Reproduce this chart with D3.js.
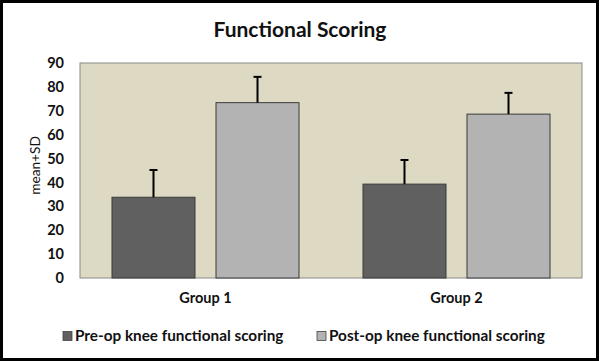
<!DOCTYPE html>
<html>
<head>
<meta charset="utf-8">
<script src="https://cdn.jsdelivr.net/npm/d3@7"></script>
<style>
  body { margin: 0; background: #fff; }
  svg text { font-family: Lato, "Open Sans", sans-serif; font-weight: bold; fill: #111; }
</style>
</head>
<body>
<div id="container"></div>
<script>
// data
const groups = ["Group 1", "Group 2"];
const seriesNames = ["Pre-op knee functional scoring", "Post-op knee functional scoring"];
const preMeans = [33.8, 39.3];
const preSD = [11.4, 10.1];
const postMeans = [73.4, 68.6];
const postSD = [10.8, 8.9];
const yTicks = [0, 10, 20, 30, 40, 50, 60, 70, 80, 90];

const width = 600, height = 361;
const colors = ["#606060", "#b3b3b3"];

const svg = d3.select("#container").append("svg")
  .attr("width", width).attr("height", height);

// outer frame
svg.append("rect")
  .attr("x", 1.5).attr("y", 1.5)
  .attr("width", width - 4).attr("height", height - 3)
  .attr("fill", "#fff").attr("stroke", "#000").attr("stroke-width", 3);

const plot = {left: 80, top: 63, right: 582, bottom: 278};

const x0 = d3.scaleBand().domain(groups)
  .range([plot.left, plot.right]).paddingInner(0).paddingOuter(0);
// bars 83px wide, ~21px apart, centred in each group band
const x1 = d3.scaleBand().domain(seriesNames)
  .range([32, x0.bandwidth() - 32]).paddingInner(0.202).paddingOuter(0);
const y = d3.scaleLinear().domain([0, 90]).range([plot.bottom, plot.top]);

// plot background
svg.append("rect")
  .attr("x", plot.left).attr("y", plot.top)
  .attr("width", plot.right - plot.left).attr("height", plot.bottom - plot.top)
  .attr("fill", "#ddd9c3").attr("stroke", "#8a8a8a").attr("stroke-width", 1);

// title
svg.append("text")
  .attr("x", 300).attr("y", 37)
  .attr("text-anchor", "middle")
  .style("font-size", "21px")
  .text("Functional Scoring");

// y axis
const yAxis = d3.axisLeft(y).tickValues(yTicks).tickSize(0).tickPadding(16);
const ya = svg.append("g")
  .attr("transform", "translate(" + plot.left + ",0)")
  .call(yAxis);
ya.select(".domain").remove();
ya.selectAll("text").style("font-size", "14.5px").attr("fill", "#111");

svg.append("text")
  .attr("transform", "translate(40," + ((plot.top + plot.bottom) / 2 - 5) + ") rotate(-90)")
  .attr("text-anchor", "middle")
  .style("font-size", "13.7px")
  .style("font-weight", "normal")
  .text("mean+SD");

// x axis labels
const xAxis = d3.axisBottom(x0).tickSize(0).tickPadding(15);
const xa = svg.append("g")
  .attr("transform", "translate(0," + plot.bottom + ")")
  .call(xAxis);
xa.select(".domain").remove();
xa.selectAll("text").style("font-size", "14.5px").attr("fill", "#111");

// bars
const rows = groups.map((g, i) => ({
  group: g,
  values: [
    {name: seriesNames[0], mean: preMeans[i], sd: preSD[i], c: colors[0]},
    {name: seriesNames[1], mean: postMeans[i], sd: postSD[i], c: colors[1]}
  ]
}));

const gGroups = svg.selectAll(".grp")
  .data(rows).enter().append("g")
  .attr("class", "grp")
  .attr("transform", d => "translate(" + x0(d.group) + ",0)");

gGroups.selectAll("rect")
  .data(d => d.values).enter().append("rect")
  .attr("x", d => x1(d.name))
  .attr("y", d => y(d.mean))
  .attr("width", x1.bandwidth())
  .attr("height", d => plot.bottom - y(d.mean))
  .attr("fill", d => d.c)
  .attr("stroke", "#3a3a3a").attr("stroke-width", 1);

// error bars (upper only)
const err = gGroups.selectAll(".err")
  .data(d => d.values).enter().append("g").attr("class", "err");
err.append("line")
  .attr("x1", d => x1(d.name) + x1.bandwidth() / 2)
  .attr("x2", d => x1(d.name) + x1.bandwidth() / 2)
  .attr("y1", d => y(d.mean))
  .attr("y2", d => y(d.mean + d.sd))
  .attr("stroke", "#000").attr("stroke-width", 2);
err.append("line")
  .attr("x1", d => x1(d.name) + x1.bandwidth() / 2 - 4)
  .attr("x2", d => x1(d.name) + x1.bandwidth() / 2 + 4)
  .attr("y1", d => y(d.mean + d.sd))
  .attr("y2", d => y(d.mean + d.sd))
  .attr("stroke", "#000").attr("stroke-width", 2);

// legend
const legendX = [63, 317];
const legend = svg.append("g").attr("id", "legend");
seriesNames.forEach((n, i) => {
  legend.append("rect")
    .attr("x", legendX[i]).attr("y", 331.5)
    .attr("width", 9).attr("height", 9)
    .attr("fill", colors[i]).attr("stroke", "#444").attr("stroke-width", 0.8);
  legend.append("text")
    .attr("x", legendX[i] + 12).attr("y", 341)
    .style("font-size", "15.3px")
    .text(n);
});
</script>
</body>
</html>
